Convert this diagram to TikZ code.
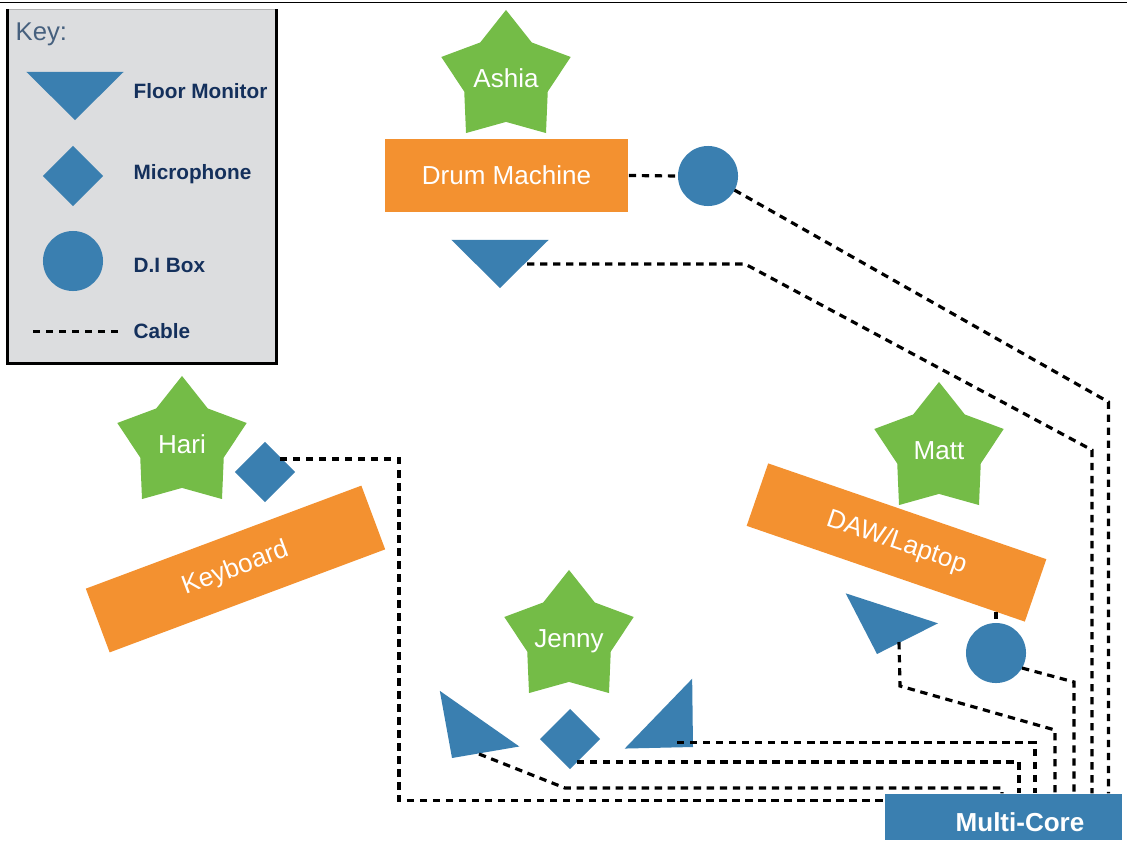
\documentclass[tikz,border=0pt]{standalone}
\usepackage{fontspec}
\setmainfont{Liberation Sans}
\usetikzlibrary{shapes.geometric}
\definecolor{gearblue}{HTML}{3A7FB0}
\definecolor{deskorange}{HTML}{F39130}
\definecolor{playergreen}{HTML}{74BC47}
\definecolor{keygray}{HTML}{DCDDDF}
\definecolor{keynavy}{HTML}{14305C}
\definecolor{keyslate}{HTML}{46607E}
\tikzset{
    player/.style = {star, star points=5, star point ratio=1.55, minimum size=1.36cm, inner sep=0pt, fill=playergreen, label={[text=white,inner sep=0pt,text height=5.3pt,text depth=0pt,font=\fontsize{7.4}{9}\selectfont]center:#1}},
    desk/.style = {rectangle, minimum width=2.43cm, minimum height=0.73cm, inner sep=0pt, fill=deskorange, text=white, font=\fontsize{7.4}{9}\selectfont},
    monitor/.style = {isosceles triangle, isosceles triangle stretches, minimum width=0.97cm, minimum height=0.48cm, inner sep=0pt, outer sep=0pt, anchor=apex, fill=gearblue},
    mic/.style = {diamond, minimum width=0.6cm, minimum height=0.6cm, inner sep=0pt, outer sep=0pt, fill=gearblue},
    dibox/.style = {circle, minimum size=0.6cm, inner sep=0pt, outer sep=0pt, fill=gearblue},
    corebox/.style = {rectangle, minimum width=2.37cm, minimum height=0.46cm, inner sep=0pt, fill=gearblue},
    keybox/.style = {rectangle, minimum width=2.68cm, minimum height=3.53cm, inner sep=0pt, fill=keygray, draw=gray!60, line width=0.3pt},
    keylabel/.style = {anchor=west, inner sep=0pt, text=keynavy, font=\fontsize{5.9}{8}\selectfont\bfseries},
    cable/.style = {black, line width=0.9pt, dash pattern=on 2.1pt off 1.6pt},
    keyedge/.style = {black, line width=0.9pt},
}
\begin{document}
\begin{tikzpicture}[x=0.01cm,y=-0.01cm]
\useasboundingbox (0,0) rectangle (1127,845);
%
\coordinate (topl) at (0,2.5);
\coordinate (topr) at (1127,2.5);
\draw[black,line width=0.4pt] (topl) -- (topr);
%
\node[keybox] at (142,186.5) (keyframe) {};
\draw[keyedge] (keyframe.north west) -- (keyframe.south west) -- (keyframe.south east) -- (keyframe.north east);
\node[anchor=west,inner sep=0pt,text=keyslate,font=\fontsize{7.3}{9}\selectfont] at (15,34) (keytitle) {Key:};
\node[monitor,rotate=-90] at (75,120) (keymon) {};
\node[mic] at (73,176) (keymic) {};
\node[dibox] at (73,261) (keydi) {};
\coordinate (keycablel) at (33,331.5);
\coordinate (keycabler) at (118,331.5);
\draw[cable] (keycablel) -- (keycabler);
\node[keylabel] at (133,91) (lblmon) {Floor Monitor};
\node[keylabel] at (133,174.5) (lblmic) {Microphone};
\node[keylabel] at (133,265.5) (lbldi) {D.I Box};
\node[keylabel] at (133,331) (lblcable) {Cable};
%
\node[player=Ashia] at (506,78) (ashia) {};
\node[player=Hari] at (182,444) (hari) {};
\node[player=Matt] at (939,450) (matt) {};
\node[player=Jenny] at (569,638) (jenny) {};
%
\node[desk] at (506.5,175.5) (drum) {Drum Machine};
\node[desk,minimum width=2.94cm,minimum height=0.68cm,rotate=20.5] at (235.5,569) (keyboard) {Keyboard};
\node[desk,minimum width=2.94cm,minimum height=0.66cm,rotate=-19] at (896.5,542.5) (daw) {DAW/Laptop};
%
\node[monitor,rotate=-90] at (500,288) (mondrum) {};
\node[monitor,rotate=-125] at (452,758) (monjennyl) {};
\node[monitor,rotate=-44] at (693,747) (monjennyr) {};
\node[monitor,rotate=-108] at (877,654) (monmatt) {};
\node[mic] at (265,472) (michari) {};
\node[mic] at (570,739) (micjenny) {};
\node[dibox] at (708,176) (didrum) {};
\node[dibox] at (996,653) (dimatt) {};
\node[corebox] at (1003.5,817) (core) {};
\node[text=white,inner sep=0pt,font=\fontsize{7.4}{9}\selectfont\bfseries] at (1020,822) (corelabel) {Multi-Core};
%
\coordinate (plugdrum) at (527,264);
\coordinate (plugmatt) at (899,642);
\coordinate (plugjl) at (479,754);
\coordinate (plugjr) at (677,742.5);
\coordinate (plugmic) at (577,762);
\coordinate (plughari) at (280,459);
\coordinate (plugdaw) at (996,612);
\coordinate (a1) at (1108.5,402);
\coordinate (b1) at (745,264);
\coordinate (b2) at (1092,450);
\coordinate (c1) at (1074,682);
\coordinate (d1) at (900,686);
\coordinate (d2) at (1055,730);
\coordinate (e1) at (1035,742.5);
\coordinate (f1) at (1019,762);
\coordinate (g1) at (565,788);
\coordinate (g2) at (1002,788);
\coordinate (h1) at (399,459);
\coordinate (h2) at (399,800.5);
%
\draw[cable] (drum.east) -- (didrum.west);
\draw[cable] (didrum.-28) -- (a1) -- (a1 |- core.north);
\draw[cable] (plugdrum) -- (b1) -- (b2) -- (b2 |- core.north);
\draw[cable] (plugdaw) -- (dimatt.north);
\draw[cable] (dimatt.-30) -- (c1) -- (c1 |- core.north);
\draw[cable] (plugmatt) -- (d1) -- (d2) -- (d2 |- core.north);
\draw[cable] (plugjr) -- (e1) -- (e1 |- core.north);
\draw[cable] (plugmic) -- (f1) -- (f1 |- core.north);
\draw[cable] (plugjl) -- (g1) -- (g2) -- (g2 |- core.north);
\draw[cable] (plughari) -- (h1) -- (h2) -- (h2 -| core.west);
%
\end{tikzpicture}
\end{document}
